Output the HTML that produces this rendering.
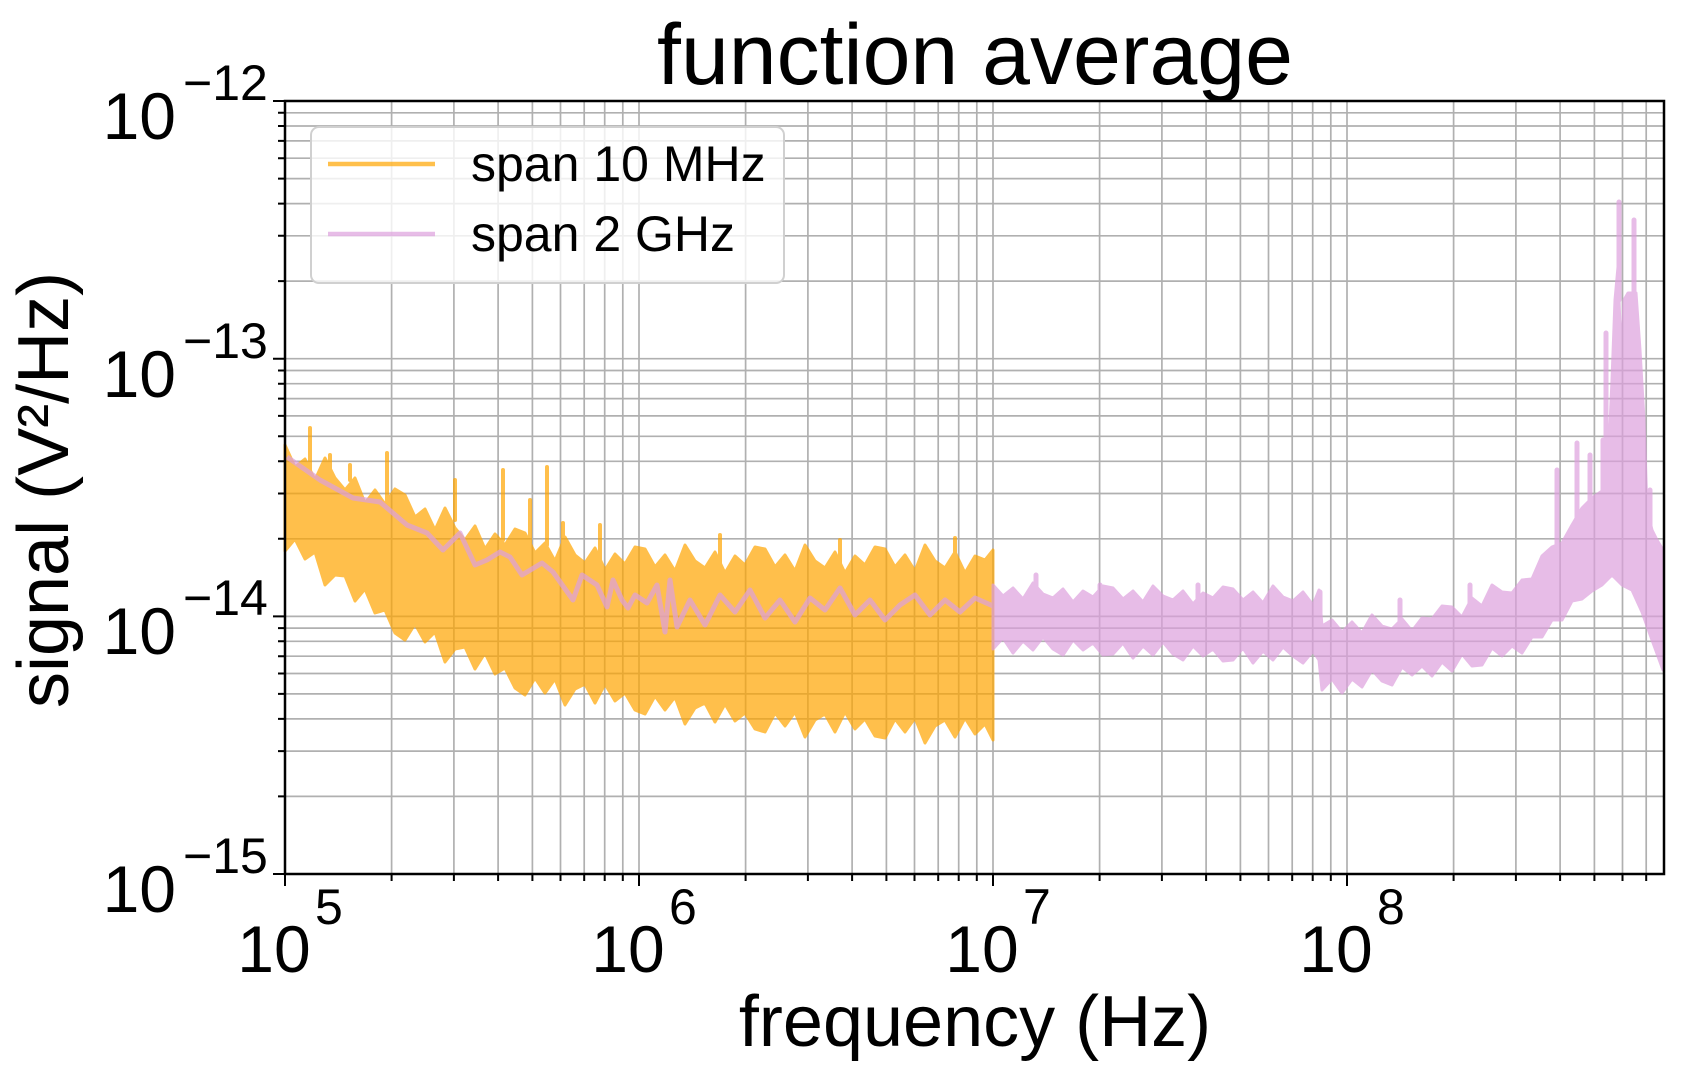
<!DOCTYPE html>
<html><head><meta charset="utf-8"><style>
html,body{margin:0;padding:0;background:#fff;}
svg{display:block;}
text{font-family:"Liberation Sans",Arial,sans-serif;fill:#000;}
</style></head><body>
<svg width="1684" height="1084" viewBox="0 0 1684 1084" xmlns="http://www.w3.org/2000/svg">
<rect width="1684" height="1084" fill="#fff"/>
<!-- grid -->
<path fill="none" stroke="#b0b0b0" stroke-width="1.7" d="
M391.6 101V874M453.9 101V874M498.1 101V874M532.4 101V874M560.5 101V874M584.2 101V874M604.7 101V874M622.8 101V874M639 101V874
M745.6 101V874M807.9 101V874M852.1 101V874M886.4 101V874M914.5 101V874M938.2 101V874M958.7 101V874M976.8 101V874M993 101V874
M1099.6 101V874M1161.9 101V874M1206.1 101V874M1240.4 101V874M1268.5 101V874M1292.2 101V874M1312.7 101V874M1330.8 101V874M1347 101V874
M1453.6 101V874M1515.9 101V874M1560.1 101V874M1594.4 101V874M1622.5 101V874M1646.2 101V874
M285 796.4H1664M285 751.1H1664M285 718.9H1664M285 693.9H1664M285 673.5H1664M285 656.2H1664M285 641.3H1664M285 628.1H1664M285 616.4H1664
M285 538.8H1664M285 493.5H1664M285 461.3H1664M285 436.3H1664M285 415.9H1664M285 398.6H1664M285 383.7H1664M285 370.5H1664M285 358.7H1664
M285 281.1H1664M285 235.8H1664M285 203.6H1664M285 178.6H1664M285 158.2H1664M285 140.9H1664M285 126H1664M285 112.8H1664"/>
<!-- orange -->
<g opacity="0.7">
<polygon fill="#ffa500" stroke="#ffa500" stroke-width="3" stroke-linejoin="round" points="
285,445 295,467 305,459 315,480 325,458 335,478 345,490 355,478 365,503 375,490 385,504 395,489 405,495 415,517 425,509 435,530 445,508 455,528 465,540 475,526 485,549 495,534 505,545 515,529 525,533 535,553 545,543 555,561 565,537 575,555 585,563 595,548 605,570 615,554 625,564 635,547 645,549 655,567 665,555 675,571 685,545 695,561 705,568 715,552 725,573 735,556 745,565 755,547 765,549 775,567 785,555 795,571 805,545 815,561 825,568 835,552 845,573 855,556 865,565 875,547 885,549 895,567 905,555 915,571 925,545 935,561 945,568 955,552 965,573 975,556 985,560 993,550
993,740 985,724 975,734 965,718 955,737 945,720 935,726 925,743 915,718 905,732 895,719 885,738 875,736 865,719 855,729 845,712 835,732 825,714 815,720 805,737 795,712 785,726 775,713 765,732 755,729 745,713 735,721 725,704 715,722 705,703 695,708 685,724 675,697 665,710 655,696 645,714 635,710 625,693 615,701 605,684 595,703 585,684 575,689 565,705 555,679 545,693 535,678 525,695 515,688 505,668 495,674 485,653 475,669 465,647 455,649 445,662 435,632 425,642 415,624 405,640 395,633 385,610 375,613 365,589 355,601 345,576 335,575 325,585 315,552 305,559 295,539 285,551"/>
<path stroke="#ffa500" stroke-width="4" stroke-linecap="round" d="M310 470V428M387 500V453M503 540V470M547 545V467M350 480V465M563 560V523M330 480V455M455 520V480M530 560V500M600 560V525M720 565V535M840 570V540M955 570V538"/>
</g>
<!-- pink -->
<g opacity="0.7">
<polyline fill="none" stroke="#dda0dd" stroke-width="5" stroke-linejoin="round" points="287,457 320,480 353,498 380,502 407,525 427,533 443,550 460,533 475,565 487,560 500,552 510,557 522,575 542,563 553,572 573,600 582,575 597,585 607,607 613,580 622,600 628,608 635,595 647,603 657,585 665,632 670,580 677,627 690,600 705,625 720,595 735,612 750,590 765,618 780,600 795,622 810,598 825,610 840,588 855,615 870,600 885,620 900,605 915,595 930,615 945,600 960,612 975,598 993,606"/>
<polygon fill="#dda0dd" stroke="#dda0dd" stroke-width="3" stroke-linejoin="round" points="
993,585 1003,596 1013,588 1023,599 1033,583 1043,594 1053,598 1063,589 1073,602 1083,591 1093,597 1103,586 1113,588 1123,599 1133,591 1143,602 1153,586 1163,596 1173,600 1183,591 1193,604 1203,593 1213,598 1223,587 1233,589 1243,600 1253,592 1263,603 1273,586 1283,597 1293,601 1303,592 1313,605 1319,590 1322,626 1332,620 1342,632 1352,622 1362,633 1372,615 1382,626 1392,629 1402,619 1412,631 1422,618 1432,619 1442,606 1452,607 1462,617 1472,598 1482,606 1492,585 1502,592 1512,593 1522,580 1532,579 1542,556 1552,547 1562,543 1572,525 1582,508 1592,498 1602,491 1608,470 1612,380 1615,300 1618,267 1621,360 1624,300 1628,293 1636,293 1640,350 1644,420 1647,510 1652,530 1657,540 1663,550
1663,670 1652,640 1642,612 1632,590 1622,585 1612,575 1602,585 1592,591 1582,599 1572,601 1562,620 1552,620 1542,637 1532,637 1522,653 1512,646 1502,656 1492,648 1482,665 1472,666 1462,654 1452,671 1442,662 1432,676 1422,666 1412,675 1402,667 1392,685 1382,681 1372,670 1362,687 1352,679 1342,693 1332,679 1322,690 1319,660 1313,651 1303,663 1293,656 1283,647 1273,660 1263,651 1253,663 1243,648 1233,660 1223,661 1213,649 1203,656 1193,646 1183,660 1173,654 1163,642 1153,655 1143,646 1133,658 1123,643 1113,654 1103,655 1093,643 1083,650 1073,640 1063,655 1053,649 1043,637 1033,650 1023,641 1013,653 1003,638 993,649"/>
<path stroke="#dda0dd" stroke-width="5" stroke-linecap="round" d="M1557 560V470M1577 540V443M1606 520V333M1619 300V202M1634 300V220M1650 540V490M1603 520V440M1590 520V455M1036 600V575M1100 610V585M1198 610V585M1320 620V592M1400 630V600M1470 610V585"/>
</g>
<!-- axes -->
<rect x="285" y="101" width="1379" height="773" fill="none" stroke="#000" stroke-width="2.5"/>
<path stroke="#000" stroke-width="2" d="
M285 874v12M639 874v12M993 874v12M1347 874v12
M391.6 874v7M453.9 874v7M498.1 874v7M532.4 874v7M560.5 874v7M584.2 874v7M604.7 874v7M622.8 874v7
M745.6 874v7M807.9 874v7M852.1 874v7M886.4 874v7M914.5 874v7M938.2 874v7M958.7 874v7M976.8 874v7
M1099.6 874v7M1161.9 874v7M1206.1 874v7M1240.4 874v7M1268.5 874v7M1292.2 874v7M1312.7 874v7M1330.8 874v7
M1453.6 874v7M1515.9 874v7M1560.1 874v7M1594.4 874v7M1622.5 874v7M1646.2 874v7
M285 101h-12M285 358.7h-12M285 616.4h-12M285 874h-12
M285 796.4h-7M285 751.1h-7M285 718.9h-7M285 693.9h-7M285 673.5h-7M285 656.2h-7M285 641.3h-7M285 628.1h-7
M285 538.8h-7M285 493.5h-7M285 461.3h-7M285 436.3h-7M285 415.9h-7M285 398.6h-7M285 383.7h-7M285 370.5h-7
M285 281.1h-7M285 235.8h-7M285 203.6h-7M285 178.6h-7M285 158.2h-7M285 140.9h-7M285 126h-7M285 112.8h-7"/>
<text x="975" y="84" font-size="86" text-anchor="middle">function average</text>
<text x="975" y="1046" font-size="72" text-anchor="middle">frequency (Hz)</text>
<text transform="translate(68,490) rotate(-90)" font-size="72" text-anchor="middle">signal (V²/Hz)</text>
<g font-size="66">
<text x="176" y="139" text-anchor="end">10</text><text x="183" y="100" font-size="50">−12</text>
<text x="176" y="397" text-anchor="end">10</text><text x="183" y="358" font-size="50">−13</text>
<text x="176" y="654" text-anchor="end">10</text><text x="183" y="615" font-size="50">−14</text>
<text x="176" y="912" text-anchor="end">10</text><text x="183" y="873" font-size="50">−15</text>
<text x="274" y="972" text-anchor="middle">10</text><text x="315" y="924" font-size="50">5</text>
<text x="628" y="972" text-anchor="middle">10</text><text x="669" y="924" font-size="50">6</text>
<text x="982" y="972" text-anchor="middle">10</text><text x="1023" y="924" font-size="50">7</text>
<text x="1336" y="972" text-anchor="middle">10</text><text x="1377" y="924" font-size="50">8</text>
</g>
<rect x="311" y="127" width="473" height="156" rx="8" fill="#fff" fill-opacity="0.8" stroke="#d0d0d0" stroke-width="2"/>
<line x1="328" y1="164" x2="435" y2="164" stroke="#ffa500" stroke-opacity="0.7" stroke-width="4.5"/>
<line x1="328" y1="234" x2="435" y2="234" stroke="#dda0dd" stroke-opacity="0.7" stroke-width="4.5"/>
<text x="471" y="181" font-size="50">span 10 MHz</text>
<text x="471" y="251" font-size="50">span 2 GHz</text>
</svg>
</body></html>
